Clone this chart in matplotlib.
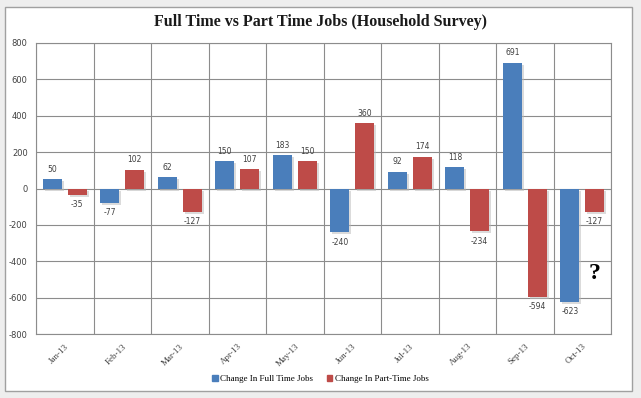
import numpy as np
import matplotlib.pyplot as plt
from matplotlib.patches import Rectangle, Patch
import matplotlib.patheffects as pe

plt.rcParams["axes.unicode_minus"] = False

months = ["Jan-13", "Feb-13", "Mar-13", "Apr-13", "May-13", "Jun-13",
          "Jul-13", "Aug-13", "Sep-13", "Oct-13"]
full_time = [50, -77, 62, 150, 183, -240, 92, 118, 691, -623]
part_time = [-35, 102, -127, 107, 150, 360, 174, -234, -594, -127]

blue = "#4a7ebb"
red = "#be4b48"

fig = plt.figure(figsize=(6.41, 3.98), dpi=100)
fig.patch.set_facecolor("#eeeeee")
fig.patches.append(Rectangle((5 / 641, 1 - 391 / 398), 627 / 641, 384 / 398,
                             transform=fig.transFigure, facecolor="white",
                             edgecolor="#a0a0a0", lw=1.0, zorder=-5))

ax = fig.add_axes([36 / 641, 1 - 334 / 398, 575 / 641, 291 / 398])
ax.set_zorder(2)
ax.patch.set_alpha(0)
x = np.arange(len(months))
w = 0.33
shadow = [pe.SimplePatchShadow(offset=(1.5, -1.5), shadow_rgbFace="#b8b8b8", alpha=0.5), pe.Normal()]
ax.bar(x - 0.215, full_time, w, color=blue, zorder=3, path_effects=shadow)
ax.bar(x + 0.215, part_time, w, color=red, zorder=3, path_effects=shadow)

# data labels above / below each bar
for xs, vals in ((x - 0.215, full_time), (x + 0.215, part_time)):
    for xi, v in zip(xs, vals):
        off = 55 if v >= 0 else -55
        ax.text(xi, v + off, str(v), ha="center", va="center", fontsize=5.5,
                color="#404040", family="DejaVu Sans")

ax.set_xlim(-0.5, len(months) - 0.5)
ax.set_ylim(-800, 800)
ax.set_yticks(np.arange(-800, 801, 200))
ax.set_xticks(x)
ax.set_xticklabels(months, rotation=45, ha="right", rotation_mode="anchor",
                   fontsize=6.5, family="Liberation Serif", color="#404040")
for lab in ax.get_yticklabels():
    lab.set_fontsize(6)
    lab.set_color("#404040")
ax.tick_params(length=0, pad=6)
ax.set_xticks(np.arange(len(months) + 1) - 0.5, minor=True)
ax.tick_params(which="minor", length=0)
ax.grid(axis="y", color="#8c8c8c", lw=0.8, zorder=1)
ax.grid(axis="x", which="minor", color="#8c8c8c", lw=0.8, zorder=1)
ax.grid(axis="x", which="major", visible=False)
for s in ax.spines.values():
    s.set_color("#8c8c8c")
    s.set_linewidth(0.8)

ax.text(9.22, -470, "?", ha="center", va="center", fontsize=17,
        fontweight="bold", family="Liberation Serif", color="black")

fig.text(0.5, 1 - 22 / 398, "Full Time vs Part Time Jobs (Household Survey)",
         ha="center", va="center", fontsize=11.5, fontweight="bold",
         family="Liberation Serif", color="#1a1a1a")

handles = [Patch(color=blue, label="Change In Full Time Jobs"),
           Patch(color=red, label="Change In Part-Time Jobs")]
fig.legend(handles=handles, loc="center", bbox_to_anchor=(0.5, 1 - 379 / 398),
           ncol=2, frameon=False, prop={"family": "Liberation Serif", "size": 6.5},
           handlelength=0.6, handleheight=0.6, handletextpad=0.3, columnspacing=1.5)

fig.savefig("out.png", dpi=100, facecolor=fig.get_facecolor())
